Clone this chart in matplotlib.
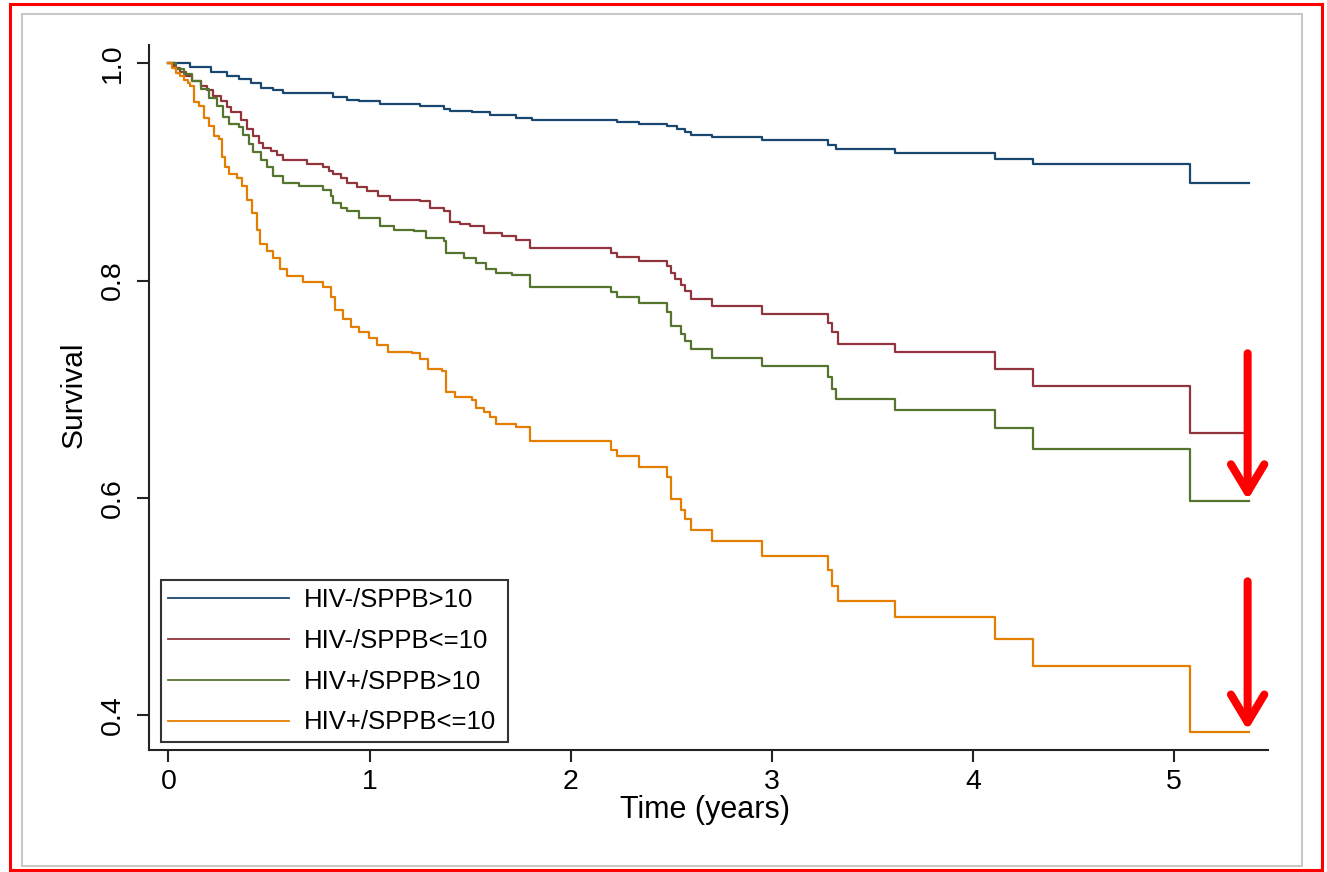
import matplotlib
matplotlib.use("Agg")
import matplotlib.pyplot as plt
from matplotlib.patches import Rectangle

plt.rcParams['font.family'] = ['Liberation Sans', 'DejaVu Sans']

# Kaplan-Meier step values (time in years, survival after each step)
t_neg_hi = [0, 0.11, 0.21, 0.29, 0.35, 0.41, 0.46, 0.52, 0.57, 0.82, 0.89, 0.95, 1.05, 1.25, 1.37, 1.40,
            1.51, 1.60, 1.73, 1.81, 2.23, 2.34, 2.48, 2.53, 2.57, 2.60, 2.70, 2.95, 3.28, 3.32, 3.61, 4.11,
            4.30, 5.08, 5.37]
s_neg_hi = [1.0, 0.997, 0.992, 0.988, 0.986, 0.982, 0.977, 0.975, 0.973, 0.969, 0.966, 0.965, 0.963, 0.961,
            0.958, 0.956, 0.955, 0.952, 0.950, 0.948, 0.946, 0.944, 0.942, 0.940, 0.937, 0.934, 0.932, 0.929,
            0.925, 0.921, 0.917, 0.912, 0.907, 0.890, 0.890]

t_neg_lo = [0, 0.03, 0.06, 0.09, 0.12, 0.16, 0.19, 0.22, 0.26, 0.29, 0.31, 0.36, 0.39, 0.42, 0.45, 0.47,
            0.51, 0.54, 0.57, 0.69, 0.77, 0.80, 0.82, 0.86, 0.89, 0.94, 0.99, 1.04, 1.10, 1.25, 1.30, 1.37,
            1.40, 1.45, 1.50, 1.57, 1.66, 1.73, 1.80, 2.20, 2.23, 2.34, 2.48, 2.50, 2.52, 2.55, 2.57, 2.60,
            2.70, 2.95, 3.28, 3.30, 3.33, 3.61, 4.11, 4.30, 5.08, 5.35]
s_neg_lo = [1.0, 0.996, 0.992, 0.988, 0.984, 0.979, 0.975, 0.970, 0.965, 0.960, 0.955, 0.948, 0.940, 0.933,
            0.927, 0.922, 0.919, 0.916, 0.911, 0.907, 0.905, 0.901, 0.898, 0.894, 0.890, 0.886, 0.882, 0.878,
            0.874, 0.873, 0.867, 0.864, 0.854, 0.852, 0.850, 0.844, 0.841, 0.837, 0.830, 0.825, 0.822, 0.818,
            0.813, 0.807, 0.801, 0.796, 0.790, 0.783, 0.777, 0.769, 0.761, 0.753, 0.742, 0.734, 0.719, 0.703,
            0.660, 0.660]

t_pos_hi = [0, 0.04, 0.08, 0.12, 0.16, 0.20, 0.24, 0.27, 0.30, 0.35, 0.37, 0.40, 0.42, 0.46, 0.49, 0.52,
            0.57, 0.65, 0.77, 0.81, 0.82, 0.86, 0.89, 0.95, 1.05, 1.12, 1.22, 1.28, 1.37, 1.38, 1.47, 1.53,
            1.58, 1.63, 1.71, 1.80, 2.20, 2.23, 2.34, 2.48, 2.50, 2.55, 2.57, 2.60, 2.70, 2.95, 3.28, 3.30,
            3.32, 3.61, 4.11, 4.30, 5.08, 5.37]
s_pos_hi = [1.0, 0.995, 0.990, 0.984, 0.976, 0.968, 0.961, 0.951, 0.944, 0.941, 0.934, 0.926, 0.918, 0.911,
            0.905, 0.896, 0.890, 0.887, 0.883, 0.878, 0.871, 0.867, 0.864, 0.858, 0.850, 0.847, 0.846, 0.839,
            0.836, 0.825, 0.821, 0.816, 0.811, 0.807, 0.805, 0.794, 0.789, 0.785, 0.779, 0.771, 0.758, 0.751,
            0.744, 0.737, 0.729, 0.721, 0.711, 0.700, 0.691, 0.681, 0.664, 0.645, 0.597, 0.597]

t_pos_lo = [0, 0.02, 0.04, 0.06, 0.08, 0.10, 0.11, 0.126, 0.15, 0.175, 0.20, 0.225, 0.25, 0.267, 0.283,
            0.30, 0.34, 0.365, 0.39, 0.415, 0.44, 0.457, 0.49, 0.52, 0.556, 0.59, 0.67, 0.77, 0.81, 0.83,
            0.87, 0.91, 0.95, 0.995, 1.036, 1.094, 1.21, 1.25, 1.29, 1.36, 1.38, 1.425, 1.51, 1.53, 1.57,
            1.60, 1.63, 1.73, 1.80, 2.20, 2.23, 2.34, 2.48, 2.50, 2.55, 2.57, 2.60, 2.70, 2.95, 3.28, 3.30,
            3.33, 3.61, 4.11, 4.30, 5.08, 5.37]
s_pos_lo = [1.0, 0.996, 0.991, 0.988, 0.985, 0.982, 0.979, 0.964, 0.961, 0.950, 0.942, 0.933, 0.930, 0.914,
            0.905, 0.898, 0.894, 0.887, 0.874, 0.862, 0.847, 0.834, 0.827, 0.821, 0.811, 0.804, 0.799, 0.794,
            0.785, 0.773, 0.765, 0.757, 0.753, 0.747, 0.741, 0.734, 0.733, 0.728, 0.719, 0.717, 0.697, 0.693,
            0.690, 0.683, 0.679, 0.674, 0.668, 0.665, 0.652, 0.644, 0.638, 0.628, 0.619, 0.599, 0.589, 0.580,
            0.570, 0.560, 0.546, 0.533, 0.519, 0.505, 0.490, 0.470, 0.445, 0.384, 0.384]

labels = ['HIV-/SPPB>10', 'HIV-/SPPB<=10', 'HIV+/SPPB>10', 'HIV+/SPPB<=10']
colors = ['#1a476f', '#90353b', '#55752f', '#e37e00']

x_ticks = [0, 1, 2, 3, 4, 5]
y_ticks = [0.4, 0.6, 0.8, 1.0]

# red arrows added on top of the chart (x, start, end)
arrow_x = 5.365
arrows = [(0.733, 0.598), (0.523, 0.386)]

fig = plt.figure(figsize=(13.27, 8.72), dpi=100)
ax = fig.add_axes([0.1123, 0.1399, 0.8432, 0.8085])

series = [(t_neg_hi, s_neg_hi), (t_neg_lo, s_neg_lo), (t_pos_hi, s_pos_hi), (t_pos_lo, s_pos_lo)]
for (t, s), lab, col in zip(series, labels, colors):
    ax.plot(t, s, drawstyle='steps-post', color=col, lw=1.6, label=lab)

ax.set_xlim(-0.096, 5.466)
ax.set_ylim(0.3677, 1.0169)
ax.set_xticks(x_ticks)
ax.set_xticklabels([str(v) for v in x_ticks])
ax.set_yticks(y_ticks)
ax.set_yticklabels([f'{v:.1f}' for v in y_ticks], rotation=90, va='center')

for side in ['top', 'right']:
    ax.spines[side].set_visible(False)
for side in ['left', 'bottom']:
    ax.spines[side].set_linewidth(1.5)
    ax.spines[side].set_color('#222222')
ax.tick_params(axis='both', width=1.5, length=8.5, color='#222222', labelsize=20.5)
ax.tick_params(axis='x', pad=5)
ax.tick_params(axis='y', pad=8)

ax.set_xlabel('Time (years)', fontsize=22)
ax.set_ylabel('Survival', fontsize=21.5)
ax.xaxis.set_label_coords(0.497, -0.064)
ax.yaxis.set_label_coords(-0.0545, 0.5035)

leg = ax.legend(loc='lower left', bbox_to_anchor=(0.0105, 0.0118, 0.3105, 0.2), mode='expand',
                borderaxespad=0, borderpad=0.28, fontsize=18.5, handlelength=4.7,
                handletextpad=0.6, labelspacing=0.66, fancybox=False, frameon=True)
leg.get_frame().set_edgecolor('black')
leg.get_frame().set_linewidth(1.5)
for h in leg.get_lines():
    h.set_linewidth(1.3)

for y0, y1 in arrows:
    ax.annotate('', xy=(arrow_x, y1), xytext=(arrow_x, y0),
                arrowprops=dict(arrowstyle='->,head_length=2.0,head_width=1.2', color='red', lw=5.8,
                                shrinkA=0, shrinkB=0, joinstyle='round', capstyle='round'),
                annotation_clip=False)

# gray plot frame and red outer frame
fig.patches.append(Rectangle((0.0166, 0.0069), 0.9646, 0.977, transform=fig.transFigure,
                             fill=False, edgecolor='#c8c8c8', lw=1.5))
fig.patches.append(Rectangle((0.0072, 0.0023), 0.989, 0.993, transform=fig.transFigure,
                             fill=False, edgecolor='red', lw=2.2))

fig.savefig('out.png', dpi=100)
